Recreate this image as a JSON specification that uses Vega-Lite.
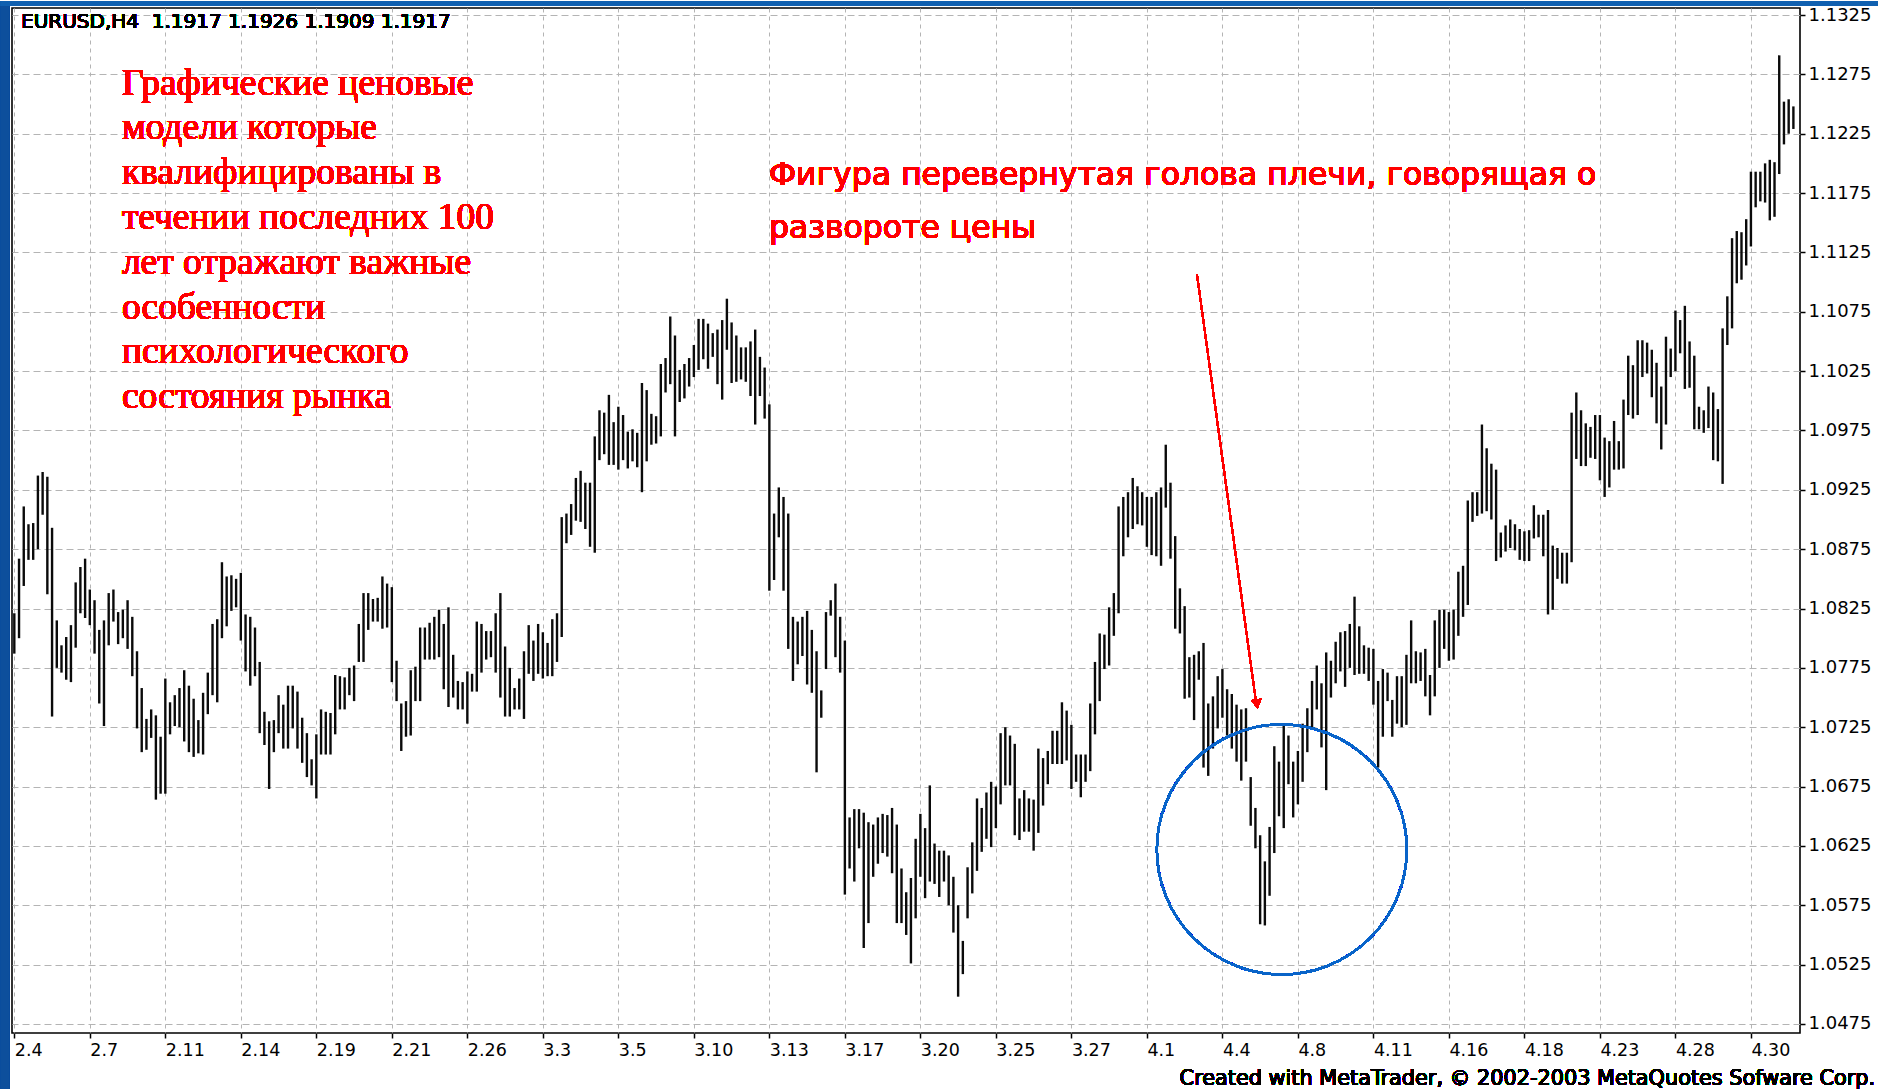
{
  "$schema": "https://vega.github.io/schema/vega-lite/v6.json",
  "width": 1788,
  "height": 1025,
  "padding": {"left": 0, "top": 0, "right": 0, "bottom": 0},
  "background": "white",
  "config": {
    "view": {"stroke": "#000000", "strokeWidth": 1.6},
    "axis": {"labelFont": "DejaVu Sans", "labelColor": "#000000", "tickColor": "#000000"}
  },
  "data": {"values": [
{"i":0,"h":1.0821,"l":1.0787},{"i":1,"h":1.0867,"l":1.0800},{"i":2,"h":1.0911,"l":1.0844},{"i":3,"h":1.0896,"l":1.0866},{"i":4,"h":1.0897,"l":1.0866},{"i":5,"h":1.0937,"l":1.0875},{"i":6,"h":1.0940,"l":1.0904},{"i":7,"h":1.0936,"l":1.0837},{"i":8,"h":1.0893,"l":1.0734},{"i":9,"h":1.0815,"l":1.0775},
{"i":10,"h":1.0794,"l":1.0771},{"i":11,"h":1.0801,"l":1.0765},{"i":12,"h":1.0811,"l":1.0763},{"i":13,"h":1.0847,"l":1.0792},{"i":14,"h":1.0860,"l":1.0821},{"i":15,"h":1.0867,"l":1.0817},{"i":16,"h":1.0841,"l":1.0811},{"i":17,"h":1.0832,"l":1.0787},{"i":18,"h":1.0807,"l":1.0745},{"i":19,"h":1.0815,"l":1.0726},
{"i":20,"h":1.0838,"l":1.0794},{"i":21,"h":1.0841,"l":1.0814},{"i":22,"h":1.0822,"l":1.0795},{"i":23,"h":1.0824,"l":1.0800},{"i":24,"h":1.0832,"l":1.0791},{"i":25,"h":1.0818,"l":1.0768},{"i":26,"h":1.0789,"l":1.0724},{"i":27,"h":1.0758,"l":1.0704},{"i":28,"h":1.0732,"l":1.0706},{"i":29,"h":1.0740,"l":1.0716},
{"i":30,"h":1.0735,"l":1.0664},{"i":31,"h":1.0717,"l":1.0669},{"i":32,"h":1.0766,"l":1.0669},{"i":33,"h":1.0746,"l":1.0719},{"i":34,"h":1.0752,"l":1.0726},{"i":35,"h":1.0758,"l":1.0725},{"i":36,"h":1.0773,"l":1.0713},{"i":37,"h":1.0760,"l":1.0704},{"i":38,"h":1.0749,"l":1.0700},{"i":39,"h":1.0731,"l":1.0703},
{"i":40,"h":1.0754,"l":1.0702},{"i":41,"h":1.0771,"l":1.0736},{"i":42,"h":1.0812,"l":1.0752},{"i":43,"h":1.0816,"l":1.0746},{"i":44,"h":1.0864,"l":1.0800},{"i":45,"h":1.0852,"l":1.0810},{"i":46,"h":1.0853,"l":1.0823},{"i":47,"h":1.0850,"l":1.0826},{"i":48,"h":1.0855,"l":1.0798},{"i":49,"h":1.0820,"l":1.0772},
{"i":50,"h":1.0818,"l":1.0760},{"i":51,"h":1.0809,"l":1.0768},{"i":52,"h":1.0780,"l":1.0720},{"i":53,"h":1.0738,"l":1.0710},{"i":54,"h":1.0730,"l":1.0673},{"i":55,"h":1.0731,"l":1.0704},{"i":56,"h":1.0752,"l":1.0720},{"i":57,"h":1.0744,"l":1.0707},{"i":58,"h":1.0760,"l":1.0707},{"i":59,"h":1.0760,"l":1.0724},
{"i":60,"h":1.0755,"l":1.0707},{"i":61,"h":1.0733,"l":1.0695},{"i":62,"h":1.0720,"l":1.0683},{"i":63,"h":1.0698,"l":1.0676},{"i":64,"h":1.0719,"l":1.0665},{"i":65,"h":1.0740,"l":1.0702},{"i":66,"h":1.0738,"l":1.0702},{"i":67,"h":1.0737,"l":1.0702},{"i":68,"h":1.0769,"l":1.0719},{"i":69,"h":1.0768,"l":1.0740},
{"i":70,"h":1.0767,"l":1.0740},{"i":71,"h":1.0775,"l":1.0752},{"i":72,"h":1.0777,"l":1.0747},{"i":73,"h":1.0812,"l":1.0780},{"i":74,"h":1.0838,"l":1.0780},{"i":75,"h":1.0838,"l":1.0807},{"i":76,"h":1.0833,"l":1.0814},{"i":77,"h":1.0834,"l":1.0814},{"i":78,"h":1.0852,"l":1.0808},{"i":79,"h":1.0846,"l":1.0809},
{"i":80,"h":1.0843,"l":1.0763},{"i":81,"h":1.0781,"l":1.0747},{"i":82,"h":1.0745,"l":1.0705},{"i":83,"h":1.0747,"l":1.0717},{"i":84,"h":1.0773,"l":1.0718},{"i":85,"h":1.0776,"l":1.0747},{"i":86,"h":1.0809,"l":1.0747},{"i":87,"h":1.0809,"l":1.0782},{"i":88,"h":1.0813,"l":1.0782},{"i":89,"h":1.0818,"l":1.0782},
{"i":90,"h":1.0824,"l":1.0784},{"i":91,"h":1.0812,"l":1.0757},{"i":92,"h":1.0826,"l":1.0742},{"i":93,"h":1.0786,"l":1.0750},{"i":94,"h":1.0764,"l":1.0740},{"i":95,"h":1.0763,"l":1.0740},{"i":96,"h":1.0772,"l":1.0728},{"i":97,"h":1.0770,"l":1.0755},{"i":98,"h":1.0814,"l":1.0755},{"i":99,"h":1.0812,"l":1.0771},
{"i":100,"h":1.0806,"l":1.0782},{"i":101,"h":1.0806,"l":1.0784},{"i":102,"h":1.0821,"l":1.0771},{"i":103,"h":1.0838,"l":1.0750},{"i":104,"h":1.0793,"l":1.0734},{"i":105,"h":1.0775,"l":1.0734},{"i":106,"h":1.0758,"l":1.0740},{"i":107,"h":1.0766,"l":1.0740},{"i":108,"h":1.0789,"l":1.0732},{"i":109,"h":1.0811,"l":1.0770},
{"i":110,"h":1.0798,"l":1.0764},{"i":111,"h":1.0812,"l":1.0770},{"i":112,"h":1.0805,"l":1.0766},{"i":113,"h":1.0796,"l":1.0768},{"i":114,"h":1.0816,"l":1.0768},{"i":115,"h":1.0821,"l":1.0780},{"i":116,"h":1.0902,"l":1.0801},{"i":117,"h":1.0905,"l":1.0880},{"i":118,"h":1.0913,"l":1.0887},{"i":119,"h":1.0935,"l":1.0899},
{"i":120,"h":1.0941,"l":1.0898},{"i":121,"h":1.0931,"l":1.0892},{"i":122,"h":1.0931,"l":1.0877},{"i":123,"h":1.0970,"l":1.0872},{"i":124,"h":1.0992,"l":1.0950},{"i":125,"h":1.0990,"l":1.0955},{"i":126,"h":1.1005,"l":1.0946},{"i":127,"h":1.0982,"l":1.0946},{"i":128,"h":1.0995,"l":1.0942},{"i":129,"h":1.0988,"l":1.0950},
{"i":130,"h":1.0974,"l":1.0943},{"i":131,"h":1.0976,"l":1.0949},{"i":132,"h":1.0973,"l":1.0944},{"i":133,"h":1.1015,"l":1.0923},{"i":134,"h":1.1009,"l":1.0949},{"i":135,"h":1.0989,"l":1.0963},{"i":136,"h":1.0987,"l":1.0964},{"i":137,"h":1.1031,"l":1.0970},{"i":138,"h":1.1036,"l":1.1007},{"i":139,"h":1.1071,"l":1.1014},
{"i":140,"h":1.1055,"l":1.0970},{"i":141,"h":1.1026,"l":1.0999},{"i":142,"h":1.1031,"l":1.1002},{"i":143,"h":1.1036,"l":1.1012},{"i":144,"h":1.1047,"l":1.1020},{"i":145,"h":1.1069,"l":1.1026},{"i":146,"h":1.1069,"l":1.1035},{"i":147,"h":1.1065,"l":1.1027},{"i":148,"h":1.1057,"l":1.1037},{"i":149,"h":1.1060,"l":1.1014},
{"i":150,"h":1.1068,"l":1.1001},{"i":151,"h":1.1086,"l":1.1043},{"i":152,"h":1.1066,"l":1.1015},{"i":153,"h":1.1055,"l":1.1016},{"i":154,"h":1.1045,"l":1.1018},{"i":155,"h":1.1045,"l":1.1016},{"i":156,"h":1.1050,"l":1.1004},{"i":157,"h":1.1060,"l":1.0980},{"i":158,"h":1.1037,"l":1.1004},{"i":159,"h":1.1028,"l":1.0985},
{"i":160,"h":1.0997,"l":1.0840},{"i":161,"h":1.0905,"l":1.0849},{"i":162,"h":1.0927,"l":1.0885},{"i":163,"h":1.0919,"l":1.0840},{"i":164,"h":1.0905,"l":1.0791},{"i":165,"h":1.0818,"l":1.0764},{"i":166,"h":1.0814,"l":1.0778},{"i":167,"h":1.0818,"l":1.0785},{"i":168,"h":1.0823,"l":1.0761},{"i":169,"h":1.0807,"l":1.0754},
{"i":170,"h":1.0789,"l":1.0687},{"i":171,"h":1.0756,"l":1.0733},{"i":172,"h":1.0822,"l":1.0774},{"i":173,"h":1.0832,"l":1.0819},{"i":174,"h":1.0846,"l":1.0784},{"i":175,"h":1.0818,"l":1.0771},{"i":176,"h":1.0798,"l":1.0584},{"i":177,"h":1.0649,"l":1.0606},{"i":178,"h":1.0656,"l":1.0595},{"i":179,"h":1.0656,"l":1.0623},
{"i":180,"h":1.0653,"l":1.0539},{"i":181,"h":1.0645,"l":1.0560},{"i":182,"h":1.0643,"l":1.0599},{"i":183,"h":1.0649,"l":1.0610},{"i":184,"h":1.0652,"l":1.0619},{"i":185,"h":1.0651,"l":1.0616},{"i":186,"h":1.0657,"l":1.0602},{"i":187,"h":1.0643,"l":1.0560},{"i":188,"h":1.0606,"l":1.0560},{"i":189,"h":1.0586,"l":1.0550},
{"i":190,"h":1.0598,"l":1.0526},{"i":191,"h":1.0631,"l":1.0564},{"i":192,"h":1.0652,"l":1.0599},{"i":193,"h":1.0640,"l":1.0581},{"i":194,"h":1.0676,"l":1.0595},{"i":195,"h":1.0627,"l":1.0593},{"i":196,"h":1.0621,"l":1.0582},{"i":197,"h":1.0621,"l":1.0595},{"i":198,"h":1.0617,"l":1.0575},{"i":199,"h":1.0599,"l":1.0552},
{"i":200,"h":1.0575,"l":1.0498},{"i":201,"h":1.0545,"l":1.0517},{"i":202,"h":1.0607,"l":1.0564},{"i":203,"h":1.0628,"l":1.0585},{"i":204,"h":1.0665,"l":1.0604},{"i":205,"h":1.0657,"l":1.0620},{"i":206,"h":1.0670,"l":1.0631},{"i":207,"h":1.0679,"l":1.0624},{"i":208,"h":1.0675,"l":1.0640},{"i":209,"h":1.0720,"l":1.0660},
{"i":210,"h":1.0725,"l":1.0676},{"i":211,"h":1.0718,"l":1.0676},{"i":212,"h":1.0711,"l":1.0634},{"i":213,"h":1.0665,"l":1.0630},{"i":214,"h":1.0672,"l":1.0637},{"i":215,"h":1.0665,"l":1.0637},{"i":216,"h":1.0664,"l":1.0621},{"i":217,"h":1.0707,"l":1.0636},{"i":218,"h":1.0699,"l":1.0659},{"i":219,"h":1.0705,"l":1.0677},
{"i":220,"h":1.0722,"l":1.0694},{"i":221,"h":1.0722,"l":1.0694},{"i":222,"h":1.0746,"l":1.0694},{"i":223,"h":1.0739,"l":1.0697},{"i":224,"h":1.0727,"l":1.0673},{"i":225,"h":1.0702,"l":1.0679},{"i":226,"h":1.0702,"l":1.0666},{"i":227,"h":1.0702,"l":1.0679},{"i":228,"h":1.0745,"l":1.0688},{"i":229,"h":1.0780,"l":1.0719},
{"i":230,"h":1.0804,"l":1.0747},{"i":231,"h":1.0803,"l":1.0774},{"i":232,"h":1.0826,"l":1.0777},{"i":233,"h":1.0838,"l":1.0802},{"i":234,"h":1.0911,"l":1.0821},{"i":235,"h":1.0919,"l":1.0869},{"i":236,"h":1.0923,"l":1.0885},{"i":237,"h":1.0935,"l":1.0892},{"i":238,"h":1.0928,"l":1.0896},{"i":239,"h":1.0923,"l":1.0895},
{"i":240,"h":1.0919,"l":1.0877},{"i":241,"h":1.0919,"l":1.0870},{"i":242,"h":1.0923,"l":1.0869},{"i":243,"h":1.0927,"l":1.0861},{"i":244,"h":1.0963,"l":1.0910},{"i":245,"h":1.0931,"l":1.0867},{"i":246,"h":1.0886,"l":1.0808},{"i":247,"h":1.0842,"l":1.0804},{"i":248,"h":1.0827,"l":1.0749},{"i":249,"h":1.0784,"l":1.0750},
{"i":250,"h":1.0786,"l":1.0731},{"i":251,"h":1.0789,"l":1.0765},{"i":252,"h":1.0796,"l":1.0691},{"i":253,"h":1.0745,"l":1.0684},{"i":254,"h":1.0751,"l":1.0707},{"i":255,"h":1.0768,"l":1.0724},{"i":256,"h":1.0774,"l":1.0733},{"i":257,"h":1.0757,"l":1.0718},{"i":258,"h":1.0753,"l":1.0707},{"i":259,"h":1.0744,"l":1.0696},
{"i":260,"h":1.0740,"l":1.0680},{"i":261,"h":1.0741,"l":1.0696},{"i":262,"h":1.0683,"l":1.0642},{"i":263,"h":1.0657,"l":1.0623},{"i":264,"h":1.0634,"l":1.0559},{"i":265,"h":1.0612,"l":1.0558},{"i":266,"h":1.0641,"l":1.0583},{"i":267,"h":1.0709,"l":1.0619},{"i":268,"h":1.0696,"l":1.0650},{"i":269,"h":1.0728,"l":1.0640},
{"i":270,"h":1.0718,"l":1.0677},{"i":271,"h":1.0696,"l":1.0649},{"i":272,"h":1.0705,"l":1.0660},{"i":273,"h":1.0728,"l":1.0679},{"i":274,"h":1.0741,"l":1.0704},{"i":275,"h":1.0764,"l":1.0724},{"i":276,"h":1.0777,"l":1.0740},{"i":277,"h":1.0762,"l":1.0708},{"i":278,"h":1.0788,"l":1.0672},{"i":279,"h":1.0781,"l":1.0750},
{"i":280,"h":1.0797,"l":1.0762},{"i":281,"h":1.0805,"l":1.0772},{"i":282,"h":1.0806,"l":1.0759},{"i":283,"h":1.0812,"l":1.0775},{"i":284,"h":1.0835,"l":1.0769},{"i":285,"h":1.0810,"l":1.0770},{"i":286,"h":1.0794,"l":1.0770},{"i":287,"h":1.0792,"l":1.0764},{"i":288,"h":1.0791,"l":1.0744},{"i":289,"h":1.0764,"l":1.0691},
{"i":290,"h":1.0774,"l":1.0717},{"i":291,"h":1.0771,"l":1.0747},{"i":292,"h":1.0748,"l":1.0717},{"i":293,"h":1.0768,"l":1.0728},{"i":294,"h":1.0768,"l":1.0725},{"i":295,"h":1.0786,"l":1.0727},{"i":296,"h":1.0815,"l":1.0762},{"i":297,"h":1.0789,"l":1.0762},{"i":298,"h":1.0788,"l":1.0764},{"i":299,"h":1.0791,"l":1.0751},
{"i":300,"h":1.0769,"l":1.0735},{"i":301,"h":1.0815,"l":1.0751},{"i":302,"h":1.0824,"l":1.0775},{"i":303,"h":1.0824,"l":1.0791},{"i":304,"h":1.0822,"l":1.0781},{"i":305,"h":1.0824,"l":1.0782},{"i":306,"h":1.0856,"l":1.0802},{"i":307,"h":1.0861,"l":1.0818},{"i":308,"h":1.0916,"l":1.0828},{"i":309,"h":1.0923,"l":1.0898},
{"i":310,"h":1.0923,"l":1.0903},{"i":311,"h":1.0980,"l":1.0905},{"i":312,"h":1.0960,"l":1.0907},{"i":313,"h":1.0947,"l":1.0900},{"i":314,"h":1.0942,"l":1.0865},{"i":315,"h":1.0889,"l":1.0868},{"i":316,"h":1.0895,"l":1.0873},{"i":317,"h":1.0900,"l":1.0876},{"i":318,"h":1.0896,"l":1.0874},{"i":319,"h":1.0892,"l":1.0866},
{"i":320,"h":1.0890,"l":1.0865},{"i":321,"h":1.0891,"l":1.0865},{"i":322,"h":1.0912,"l":1.0884},{"i":323,"h":1.0904,"l":1.0885},{"i":324,"h":1.0904,"l":1.0869},{"i":325,"h":1.0908,"l":1.0820},{"i":326,"h":1.0878,"l":1.0824},{"i":327,"h":1.0876,"l":1.0850},{"i":328,"h":1.0872,"l":1.0846},{"i":329,"h":1.0872,"l":1.0846},
{"i":330,"h":1.0990,"l":1.0864},{"i":331,"h":1.1007,"l":1.0951},{"i":332,"h":1.0992,"l":1.0945},{"i":333,"h":1.0981,"l":1.0945},{"i":334,"h":1.0978,"l":1.0952},{"i":335,"h":1.0988,"l":1.0951},{"i":336,"h":1.0988,"l":1.0933},{"i":337,"h":1.0969,"l":1.0919},{"i":338,"h":1.0966,"l":1.0927},{"i":339,"h":1.0983,"l":1.0942},
{"i":340,"h":1.0966,"l":1.0942},{"i":341,"h":1.1001,"l":1.0943},{"i":342,"h":1.1038,"l":1.0988},{"i":343,"h":1.1030,"l":1.0985},{"i":344,"h":1.1051,"l":1.0988},{"i":345,"h":1.1051,"l":1.1020},{"i":346,"h":1.1049,"l":1.1023},{"i":347,"h":1.1043,"l":1.1003},{"i":348,"h":1.1032,"l":1.0981},{"i":349,"h":1.1012,"l":1.0959},
{"i":350,"h":1.1054,"l":1.0980},{"i":351,"h":1.1044,"l":1.1020},{"i":352,"h":1.1076,"l":1.1025},{"i":353,"h":1.1068,"l":1.1040},{"i":354,"h":1.1080,"l":1.1010},{"i":355,"h":1.1050,"l":1.1011},{"i":356,"h":1.1038,"l":1.0976},{"i":357,"h":1.0995,"l":1.0976},{"i":358,"h":1.0992,"l":1.0973},{"i":359,"h":1.1012,"l":1.0977},
{"i":360,"h":1.1007,"l":1.0950},{"i":361,"h":1.0993,"l":1.0949},{"i":362,"h":1.1061,"l":1.0930},{"i":363,"h":1.1088,"l":1.1047},{"i":364,"h":1.1137,"l":1.1061},{"i":365,"h":1.1143,"l":1.1099},{"i":366,"h":1.1142,"l":1.1102},{"i":367,"h":1.1153,"l":1.1114},{"i":368,"h":1.1193,"l":1.1130},{"i":369,"h":1.1193,"l":1.1163},
{"i":370,"h":1.1193,"l":1.1168},{"i":371,"h":1.1200,"l":1.1167},{"i":372,"h":1.1203,"l":1.1152},{"i":373,"h":1.1201,"l":1.1155},{"i":374,"h":1.1291,"l":1.1191},{"i":375,"h":1.1252,"l":1.1216},{"i":376,"h":1.1254,"l":1.1225},{"i":377,"h":1.1248,"l":1.1229}
  ]},
  "layer": [
    {
      "mark": {"type": "rule", "color": "#0a0a0a", "strokeWidth": 2.4},
      "encoding": {
        "x": {
          "field": "i", "type": "quantitative",
          "scale": {"domain": [-0.49, 378.4], "nice": false, "zero": false},
          "axis": {
            "orient": "bottom", "title": null, "domain": false,
            "values": [0,16,32,48,64,80,96,112,128,144,160,176,192,208,224,240,256,272,288,304,320,336,352,368],
            "labelExpr": "['2.4','2.7','2.11','2.14','2.19','2.21','2.26','3.3','3.5','3.10','3.13','3.17','3.20','3.25','3.27','4.1','4.4','4.8','4.11','4.16','4.18','4.23','4.28','4.30'][round(datum.value/16)]",
            "labelAlign": "left", "labelFlush": false, "labelOverlap": false,
            "labelFontSize": 17.5, "labelPadding": 3, "tickSize": 5, "tickWidth": 1.5,
            "grid": true, "gridColor": "#b4b4b4", "gridDash": [4, 4], "gridWidth": 1
          }
        },
        "y": {
          "field": "h", "type": "quantitative",
          "scale": {"domain": [1.04674, 1.13309], "nice": false, "zero": false},
          "axis": {
            "orient": "right", "title": null, "domain": false,
            "values": [1.0475,1.0525,1.0575,1.0625,1.0675,1.0725,1.0775,1.0825,1.0875,1.0925,1.0975,1.1025,1.1075,1.1125,1.1175,1.1225,1.1275,1.1325],
            "format": ".4f", "labelFontSize": 18, "labelPadding": 3, "tickSize": 5, "tickWidth": 1.5,
            "labelOverlap": false, "labelFlush": false,
            "grid": true, "gridColor": "#b4b4b4", "gridDash": [7, 4], "gridWidth": 1
          }
        },
        "y2": {"field": "l"}
      }
    },
    {
      "mark": {"type": "text", "text": "EURUSD,H4\u00a0 1.1917 1.1926 1.1909 1.1917", "align": "left", "baseline": "alphabetic", "font": "DejaVu Sans", "fontSize": 20, "fontWeight": "normal", "fill": "#000000", "strokeWidth": 0, "strokeOpacity": 0},
      "encoding": {"x": {"datum": 1.42, "type": "quantitative"}, "y": {"datum": 1.1314, "type": "quantitative"}}
    },
    {
      "mark": {"type": "text", "text": ["Графические ценовые", "модели которые", "квалифицированы в", "течении последних 100", "лет отражают важные", "особенности", "психологического", "состояния рынка"], "align": "left", "baseline": "alphabetic", "font": "Liberation Serif", "fontSize": 37.5, "fontWeight": "normal", "lineHeight": 44.8, "fill": "#ff0000", "strokeWidth": 0, "strokeOpacity": 0},
      "encoding": {"x": {"datum": 22.8, "type": "quantitative"}, "y": {"datum": 1.1258, "type": "quantitative"}}
    },
    {
      "mark": {"type": "text", "text": ["Фигура перевернутая голова плечи, говорящая о", "развороте цены"], "align": "left", "baseline": "alphabetic", "font": "DejaVu Sans", "fontSize": 31.5, "fontWeight": "normal", "lineHeight": 53, "fill": "#ff0000", "strokeWidth": 0, "strokeOpacity": 0},
      "encoding": {"x": {"datum": 159.9, "type": "quantitative"}, "y": {"datum": 1.1182, "type": "quantitative"}}
    },
    {
      "mark": {"type": "rule", "color": "#ff0000", "strokeWidth": 1.6},
      "encoding": {"x": {"datum": 250.6, "type": "quantitative"}, "y": {"datum": 1.11068, "type": "quantitative"}, "x2": {"datum": 263.1}, "y2": {"datum": 1.07471}}
    },
    {
      "mark": {"type": "point", "shape": "triangle-down", "filled": true, "color": "#ff0000", "size": 110, "angle": 352, "opacity": 1},
      "encoding": {"x": {"datum": 263.3, "type": "quantitative"}, "y": {"datum": 1.07445, "type": "quantitative"}}
    },
    {
      "mark": {"type": "point", "shape": "circle", "filled": false, "stroke": "#0a64c8", "strokeWidth": 2, "size": 62500, "opacity": 1},
      "encoding": {"x": {"datum": 268.6, "type": "quantitative"}, "y": {"datum": 1.0622, "type": "quantitative"}}
    },
    {
      "mark": {"type": "text", "text": "Created with MetaTrader, © 2002-2003 MetaQuotes Sofware Corp.", "align": "right", "baseline": "alphabetic", "font": "DejaVu Sans", "fontSize": 20.8, "fontWeight": "normal", "fill": "#000000", "strokeWidth": 0, "strokeOpacity": 0},
      "encoding": {"x": {"datum": 394.3, "type": "quantitative"}, "y": {"datum": 1.04236, "type": "quantitative"}}
    },
    {
      "mark": {"type": "rect", "color": "#0d4f9c", "clip": false},
      "encoding": {"x": {"datum": -2.9, "type": "quantitative"}, "x2": {"datum": -1.1}, "y": {"datum": 1.13368, "type": "quantitative"}, "y2": {"datum": 1.04194}}
    },
    {
      "mark": {"type": "rect", "color": "#1060b0", "clip": false},
      "encoding": {"x": {"datum": -2.9, "type": "quantitative"}, "x2": {"datum": 396}, "y": {"datum": 1.13368, "type": "quantitative"}, "y2": {"datum": 1.13326}}
    }
  ]
}
